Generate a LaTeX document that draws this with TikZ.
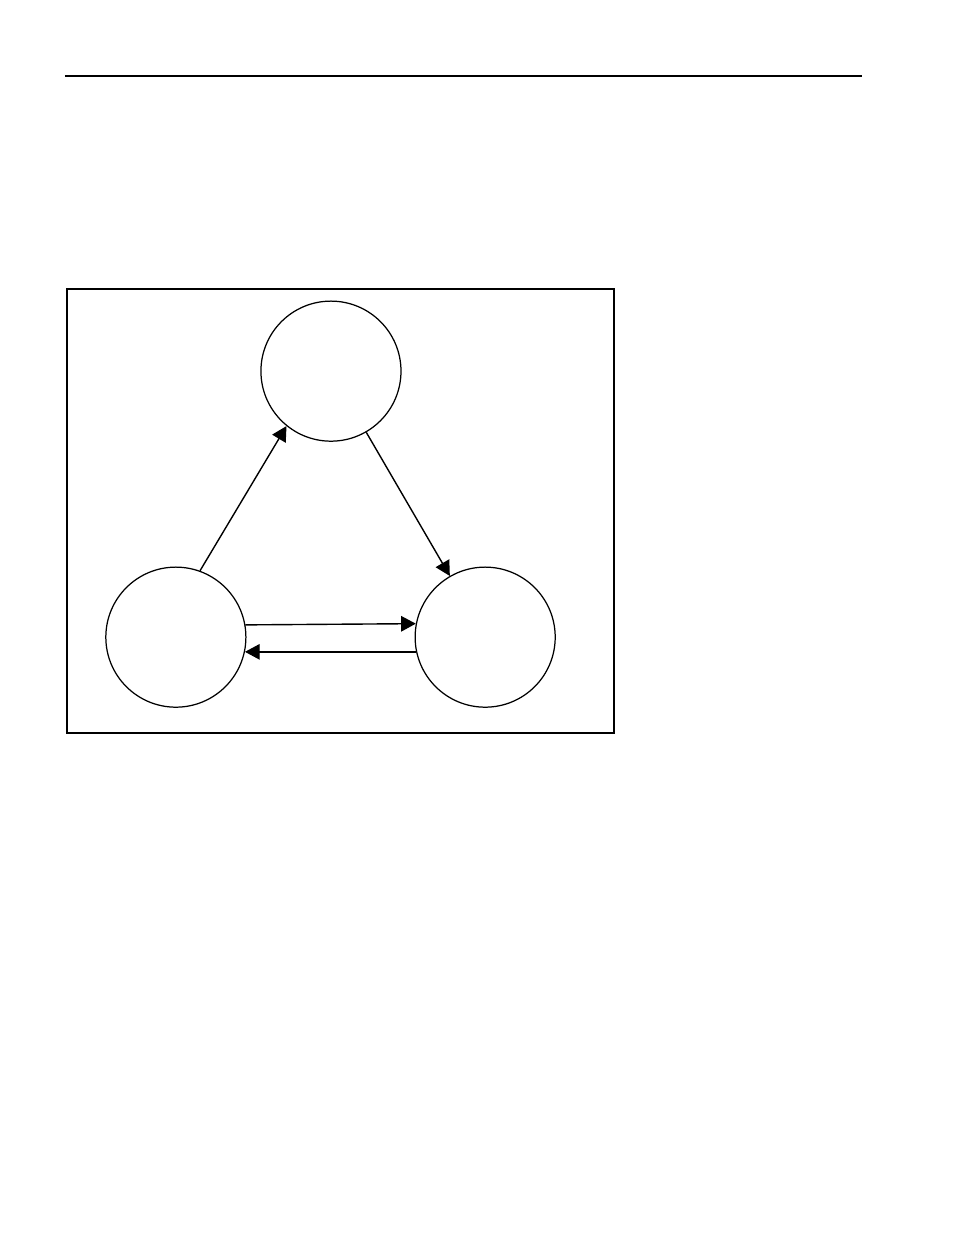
\documentclass[tikz,border=0pt]{standalone}
\usetikzlibrary{arrows.meta}
\begin{document}
\begin{tikzpicture}[state/.style={draw, circle, line width=0.8pt, minimum size=3.17cm, inner sep=0pt},
		link/.style={line width=0.9pt, -{Triangle[length=9.5pt, width=10pt]}}]
		\useasboundingbox (0,0) rectangle (21.59,27.95);
		\draw[line width=1.1pt] (1.47,26.23) -- (19.51,26.23);
		\draw[line width=1.1pt] (1.52,11.36) rectangle (13.89,21.41);
		\node[state] (top) at (7.49,19.55) {};
		\node[state] (left) at (3.98,13.53) {};
		\node[state] (right) at (10.98,13.53) {};
		\draw[link] (left.70) -- (top.231);
		\draw[link] (top.-60) -- (right.120);
		\draw[link] (left.10.7) -- (right.169.3);
		\draw[link] (right.192.4) -- (left.-12.4);
%		\draw (left) -- (right);
	\end{tikzpicture}
\end{document}
